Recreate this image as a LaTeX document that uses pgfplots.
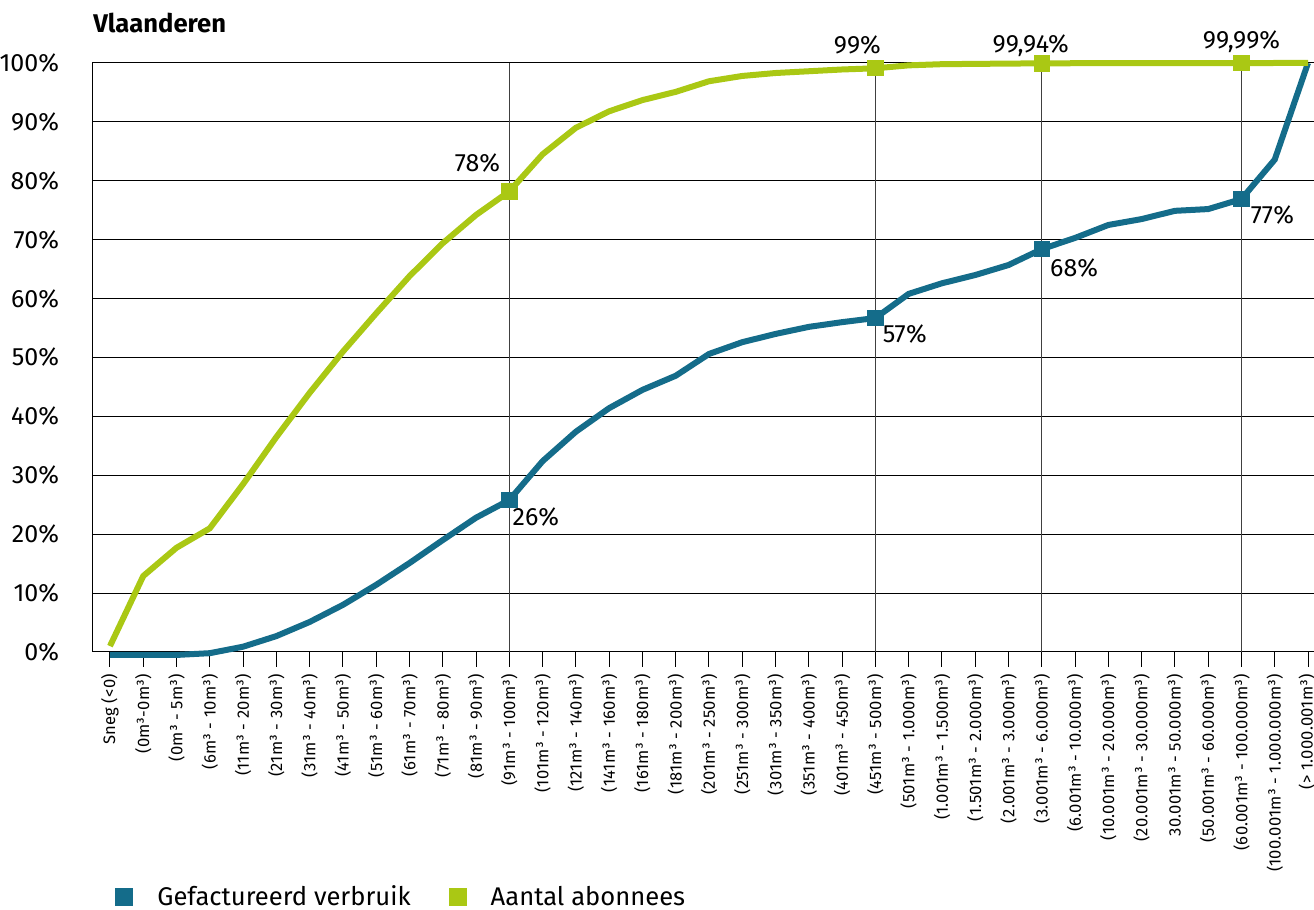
\documentclass[border=0pt]{standalone}
\usepackage{pgfplots}
\pgfplotsset{compat=1.18}
\usepackage{fontspec}
\setmainfont{Fira Sans}
\newfontfamily\ticklab{Fira Sans}[LetterSpace=1.5]

\definecolor{verbruik}{RGB}{20,108,138}
\definecolor{abonnees}{RGB}{170,200,20}

\begin{document}
\begin{tikzpicture}
\begin{axis}[
    scale only axis,
    width=610.5pt, height=294.5pt,
    xmin=-0.51, xmax=36.18,
    ymin=0, ymax=100,
    clip=false,
    axis line style={black, line width=0.5pt},
    ytick={0,10,...,100},
    yticklabel={\pgfmathprintnumber{\tick}\%},
    ytick style={draw=none},
    y tick label style={font=\fontsize{12.5}{14}\selectfont, xshift=-6pt,
        /pgf/number format/assume math mode=true},
    ymajorgrids,
    major grid style={black, line width=0.5pt},
    xtick={0,...,36},
    xtick pos=bottom,
    tick align=outside,
    major tick length=7.5pt,
    x tick style={black, line width=0.5pt},
    xticklabels={Sneg (<0),(0m³-0m³),(0m³ - 5m³),(6m³ - 10m³),(11m³ - 20m³),
        (21m³ - 30m³),(31m³ - 40m³),(41m³ - 50m³),(51m³ - 60m³),(61m³ - 70m³),
        (71m³ - 80m³),(81m³ - 90m³),(91m³ - 100m³),(101m³ - 120m³),(121m³ - 140m³),
        (141m³ - 160m³),(161m³ - 180m³),(181m³ - 200m³),(201m³ - 250m³),
        (251m³ - 300m³),(301m³ - 350m³),(351m³ - 400m³),(401m³ - 450m³),
        (451m³ - 500m³),(501m³ - 1.000m³),(1.001m³ - 1.500m³),(1.501m³ - 2.000m³),
        (2.001m³ - 3.000m³),(3.001m³ - 6.000m³),(6.001m³ - 10.000m³),
        (10.001m³ - 20.000m³),(20.001m³ - 30.000m³),30.001m³ - 50.000m³),
        (50.001m³ - 60.000m³),(60.001m³ - 100.000m³),(100.001m³ - 1.000.000m³),
        {\raisebox{2.5pt}{(> 1.000.001m³)}}},
    x tick label style={font=\ticklab\fontsize{8.3}{9}\selectfont, rotate=90, anchor=east},
    extra x ticks={12,23,28,34},
    extra x tick labels={},
    extra x tick style={grid=major, major grid style={black!75, line width=0.5pt}},
    legend columns=2,
    legend cell align=left,
    legend style={at={(0.018,-0.416)}, anchor=west, draw=none, fill=none,
        inner sep=0pt, font=\fontsize{12.8}{14}\selectfont,
        /tikz/every odd column/.append style={column sep=10pt},
        /tikz/every even column/.append style={column sep=17pt}},
    legend image code/.code={\fill[#1, draw=none] (0pt,-4.5pt) rectangle (9pt,4.5pt);},
]
\coordinate (bl) at (rel axis cs:0,0);
\coordinate (tr) at (rel axis cs:1,1);

% Gefactureerd verbruik
\addplot[color=verbruik, line width=3pt, mark=square*, mark size=2.6pt,
    mark indices={13,24,29,35}] coordinates {
    (0,-0.5) (1,-0.5) (2,-0.5) (3,-0.2) (4,0.9) (5,2.7) (6,5.1) (7,8.0)
    (8,11.4) (9,15.1) (10,19.0) (11,22.8) (12,25.8) (13,32.4) (14,37.4)
    (15,41.4) (16,44.5) (17,46.9) (18,50.6) (19,52.6) (20,54.0) (21,55.2)
    (22,56.0) (23,56.7) (24,60.8) (25,62.6) (26,64.0) (27,65.7) (28,68.4)
    (29,70.3) (30,72.5) (31,73.5) (32,74.9) (33,75.2) (34,76.9) (35,83.6)
    (36,100)
};
\addlegendentry{Gefactureerd verbruik}

% Aantal abonnees
\addplot[color=abonnees, line width=3pt, mark=square*, mark size=2.6pt,
    mark indices={13,24,29,35}] coordinates {
    (0,1.0) (1,12.9) (2,17.7) (3,21.0) (4,28.5) (5,36.5) (6,44.0) (7,51.0)
    (8,57.5) (9,63.8) (10,69.4) (11,74.2) (12,78.2) (13,84.5) (14,89.0)
    (15,91.8) (16,93.7) (17,95.1) (18,96.9) (19,97.8) (20,98.3) (21,98.6)
    (22,98.9) (23,99.1) (24,99.6) (25,99.8) (26,99.85) (27,99.9) (28,99.94)
    (29,99.96) (30,99.97) (31,99.98) (32,99.98) (33,99.99) (34,99.99)
    (35,100) (36,100)
};
\addlegendentry{Aantal abonnees}

% labels
\begin{scope}[every node/.style={font=\fontsize{12.5}{14}\selectfont, inner sep=0pt}]
\node[anchor=base east] at ([xshift=-4.5pt,yshift=10pt]axis cs:12,78.2) {78\%};
\node[anchor=base] at ([xshift=-9pt,yshift=7.5pt]axis cs:23,99.1) {99\%};
\node[anchor=base] at ([xshift=-5.5pt,yshift=5.5pt]axis cs:28,99.94) {99,94\%};
\node[anchor=base] at ([yshift=7.5pt]axis cs:34,99.99) {99,99\%};
\node[anchor=base west] at ([xshift=1.5pt,yshift=-12.5pt]axis cs:12,25.8) {26\%};
\node[anchor=base west] at ([xshift=3.5pt,yshift=-12pt]axis cs:23,56.7) {57\%};
\node[anchor=base west] at ([xshift=4pt,yshift=-13.5pt]axis cs:28,68.4) {68\%};
\node[anchor=base west] at ([xshift=4.5pt,yshift=-12pt]axis cs:34,76.9) {77\%};
\end{scope}
\node[anchor=base west, font=\bfseries\fontsize{12.8}{14}\selectfont, inner sep=0pt]
    at ([yshift=15pt]rel axis cs:0,1) {Vlaanderen};
\end{axis}
\pgfresetboundingbox
\path ([xshift=-46.5pt,yshift=-129pt]bl) rectangle ([yshift=31.5pt]tr);
\end{tikzpicture}
\end{document}
